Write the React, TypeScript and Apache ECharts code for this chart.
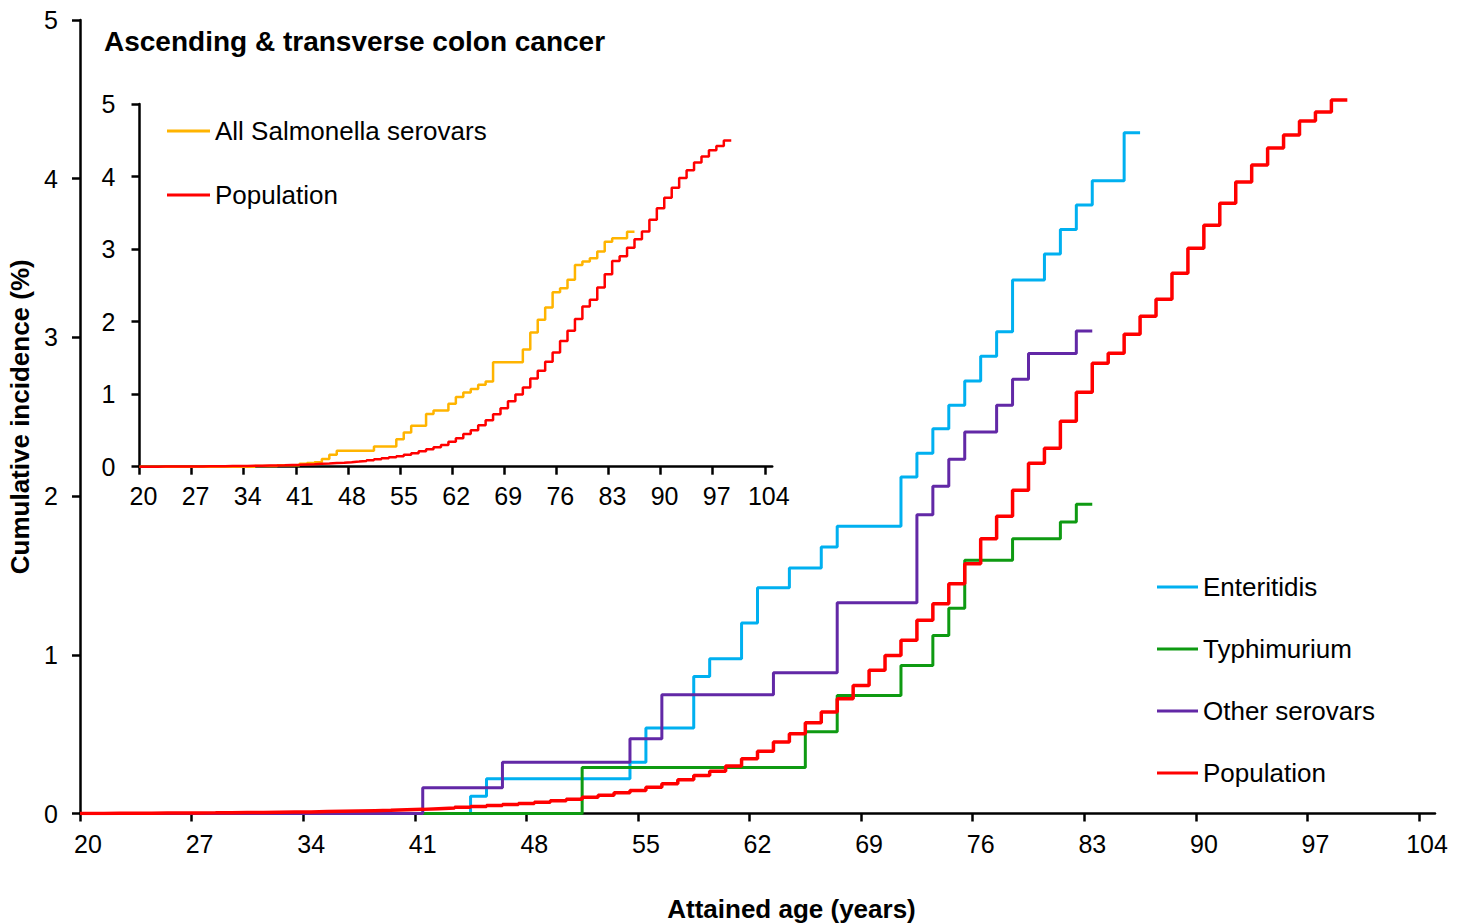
import React, { useEffect, useRef } from "react";
import * as echarts from "echarts";

// ---- Data ----
const X_TICKS = [20, 27, 34, 41, 48, 55, 62, 69, 76, 83, 90, 97, 104];

const ENT_AGES = [20, 44.5, 45.5, 54.5, 55.5, 58.5, 59.5, 61.5, 62.5, 64.5, 66.5, 67.5, 71.5, 72.5, 73.5, 74.5, 75.5, 76.5, 77.5, 78.5, 80.5, 81.5, 82.5, 83.5, 85.5, 86.5];
const ENT_VALUES = [0, 0.109, 0.219, 0.323, 0.538, 0.864, 0.975, 1.2, 1.423, 1.547, 1.679, 1.81, 2.12, 2.27, 2.425, 2.572, 2.726, 2.881, 3.035, 3.361, 3.525, 3.68, 3.834, 3.987, 4.29, 4.29];

const TYP_AGES = [20, 51.5, 65.5, 67.5, 71.5, 73.5, 74.5, 75.5, 78.5, 81.5, 82.5, 83.5];
const TYP_VALUES = [0, 0.29, 0.515, 0.744, 0.933, 1.122, 1.293, 1.595, 1.732, 1.837, 1.948, 1.948];

const OTH_AGES = [20, 41.5, 46.5, 54.5, 56.5, 63.5, 67.5, 72.5, 73.5, 74.5, 75.5, 77.5, 78.5, 79.5, 82.5, 83.5];
const OTH_VALUES = [0, 0.162, 0.323, 0.471, 0.748, 0.887, 1.328, 1.883, 2.062, 2.232, 2.404, 2.573, 2.736, 2.898, 3.041, 3.041];

const POP_AGES = [
  20, 20.5, 21.5, 22.5, 23.5, 24.5, 25.5, 26.5, 27.5, 28.5, 29.5, 30.5, 31.5, 32.5, 33.5, 34.5,
  35.5, 36.5, 37.5, 38.5, 39.5, 40.5, 41.5, 42.5, 43.5, 44.5, 45.5, 46.5, 47.5, 48.5, 49.5,
  50.5, 51.5, 52.5, 53.5, 54.5, 55.5, 56.5, 57.5, 58.5, 59.5, 60.5, 61.5, 62.5, 63.5, 64.5,
  65.5, 66.5, 67.5, 68.5, 69.5, 70.5, 71.5, 72.5, 73.5, 74.5, 75.5, 76.5, 77.5, 78.5, 79.5,
  80.5, 81.5, 82.5, 83.5, 84.5, 85.5, 86.5, 87.5, 88.5, 89.5, 90.5, 91.5, 92.5, 93.5, 94.5,
  95.5, 96.5, 97.5, 98.5, 99.5,
];
const POP_VALUES = [
  0, 0.0005, 0.001, 0.0015, 0.002, 0.0025, 0.003, 0.0035, 0.004, 0.005, 0.006, 0.007, 0.008, 0.009, 0.01, 0.012,
  0.014, 0.016, 0.018, 0.02, 0.023, 0.026, 0.03, 0.034, 0.039, 0.044, 0.05, 0.056, 0.063, 0.071, 0.08,
  0.09, 0.102, 0.115, 0.13, 0.145, 0.166, 0.187, 0.212, 0.24, 0.267, 0.299, 0.345, 0.393, 0.45, 0.502,
  0.572, 0.639, 0.723, 0.807, 0.902, 0.996, 1.091, 1.217, 1.322, 1.448, 1.574, 1.732, 1.873, 2.037, 2.207,
  2.301, 2.472, 2.654, 2.837, 2.9, 3.02, 3.134, 3.241, 3.405, 3.562, 3.707, 3.846, 3.979, 4.086, 4.193,
  4.275, 4.363, 4.42, 4.496, 4.496,
];

const ALL_AGES = [20, 35.5, 38.5, 41.5, 42.5, 43.5, 44.5, 45.5, 46.5, 51.5, 54.5, 55.5, 56.5, 58.5, 59.5, 61.5, 62.5, 63.5, 64.5, 65.5, 66.5, 67.5, 71.5, 72.5, 73.5, 74.5, 75.5, 76.5, 77.5, 78.5, 79.5, 80.5, 81.5, 82.5, 83.5, 85.5, 86.5];
const ALL_VALUES = [0, 0.01, 0.02, 0.04, 0.05, 0.06, 0.105, 0.165, 0.22, 0.28, 0.38, 0.473, 0.565, 0.725, 0.776, 0.868, 0.96, 1.024, 1.07, 1.13, 1.175, 1.44, 1.617, 1.85, 2.025, 2.195, 2.406, 2.46, 2.576, 2.782, 2.828, 2.874, 2.966, 3.1, 3.15, 3.24, 3.24];

const pairs = (xs: number[], ys: number[]) => xs.map((x, i) => [x, ys[i]]);

const FONT = "'Liberation Sans', Arial, sans-serif";
const C_ENT = "#00B0F0";
const C_TYP = "#0E9A12";
const C_OTH = "#6228A6";
const C_POP = "#FF0000";
const C_ALL = "#FFB400";

function xAxisCfg(grid: number, main: boolean) {
  return {
    type: "value",
    gridIndex: grid,
    min: 20,
    max: 105,
    axisLine: { show: true, onZero: false, lineStyle: { color: "#000", width: 2.5 } },
    axisTick: { show: true, customValues: X_TICKS, length: 8, lineStyle: { color: "#000", width: 2.5 } },
    axisLabel: {
      customValues: X_TICKS,
      fontSize: 25,
      color: "#000",
      fontFamily: FONT,
      margin: main ? 18 : 17,
      padding: main ? [0, 0, 0, 16] : [0, 0, 0, 8],
    },
    splitLine: { show: false },
    ...(main
      ? {
          name: "Attained age (years)",
          nameLocation: "middle",
          nameGap: 82,
          nameTextStyle: {
            fontSize: 26,
            fontWeight: "bold",
            color: "#000",
            fontFamily: FONT,
            padding: [0, 0, 0, 68],
          },
        }
      : {}),
  };
}

function yAxisCfg(grid: number, main: boolean) {
  return {
    type: "value",
    gridIndex: grid,
    min: 0,
    max: 5,
    interval: 1,
    axisLine: { show: true, onZero: false, lineStyle: { color: "#000", width: 2.5 } },
    axisTick: { show: true, length: 8, lineStyle: { color: "#000", width: 2.5 } },
    axisLabel: { fontSize: 25, color: "#000", fontFamily: FONT, margin: main ? 22 : 24 },
    splitLine: { show: false },
    ...(main
      ? {
          name: "Cumulative incidence (%)",
          nameLocation: "middle",
          nameGap: 42,
          nameTextStyle: { fontSize: 26, fontWeight: "bold", color: "#000", fontFamily: FONT },
        }
      : {}),
  };
}

function stepSeries(name: string, color: string, data: number[][], grid: number, width: number) {
  return {
    type: "line",
    name,
    step: "end",
    xAxisIndex: grid,
    yAxisIndex: grid,
    data,
    color,
    showSymbol: false,
    symbol: "none",
    lineStyle: { color, width },
    itemStyle: { color },
    emphasis: { disabled: true },
  };
}

export default function App() {
  const ref = useRef<HTMLDivElement>(null);
  useEffect(() => {
    if (!ref.current) return;
    const chart = echarts.init(ref.current, null, { renderer: "svg" });
    chart.setOption({
      animation: false,
      backgroundColor: "#fff",
      textStyle: { fontFamily: FONT },
      title: {
        text: "Ascending & transverse colon cancer",
        left: 104,
        top: 27,
        padding: 0,
        textStyle: { fontSize: 28, fontWeight: "bold", color: "#000", fontFamily: FONT },
      },
      legend: [
        {
          orient: "vertical",
          left: 1157,
          top: 572,
          padding: 0,
          itemWidth: 41,
          itemHeight: 3,
          itemGap: 32,
          icon: "rect",
          selectedMode: false,
          data: ["Enteritidis", "Typhimurium", "Other serovars", "Population"],
          textStyle: { fontSize: 26, color: "#000", lineHeight: 30, fontFamily: FONT },
        },
        {
          orient: "vertical",
          left: 167,
          top: 116,
          padding: 0,
          itemWidth: 43,
          itemHeight: 3,
          itemGap: 34,
          icon: "rect",
          selectedMode: false,
          data: ["All Salmonella serovars", "Population"],
          textStyle: { fontSize: 26, color: "#000", lineHeight: 30, fontFamily: FONT },
        },
      ],
      grid: [
        { left: 80, top: 20, right: 33, bottom: 110.5, containLabel: false, outerBoundsMode: "none" },
        { left: 139.5, top: 104, right: 695.8, bottom: 457.3, containLabel: false, outerBoundsMode: "none" },
      ],
      xAxis: [xAxisCfg(0, true), xAxisCfg(1, false)],
      yAxis: [yAxisCfg(0, true), yAxisCfg(1, false)],
      series: [
        stepSeries("Enteritidis", C_ENT, pairs(ENT_AGES, ENT_VALUES), 0, 3),
        stepSeries("Typhimurium", C_TYP, pairs(TYP_AGES, TYP_VALUES), 0, 3),
        stepSeries("Other serovars", C_OTH, pairs(OTH_AGES, OTH_VALUES), 0, 3),
        stepSeries("Population", C_POP, pairs(POP_AGES, POP_VALUES), 0, 3.5),
        stepSeries("All Salmonella serovars", C_ALL, pairs(ALL_AGES, ALL_VALUES), 1, 2.5),
        stepSeries("Population", C_POP, pairs(POP_AGES, POP_VALUES), 1, 2.5),
      ],
    });
    return () => chart.dispose();
  }, []);
  return (
    <div
      ref={ref}
      style={{ position: "absolute", left: 0, top: 0, width: 1468, height: 924, background: "#fff" }}
    />
  );
}
